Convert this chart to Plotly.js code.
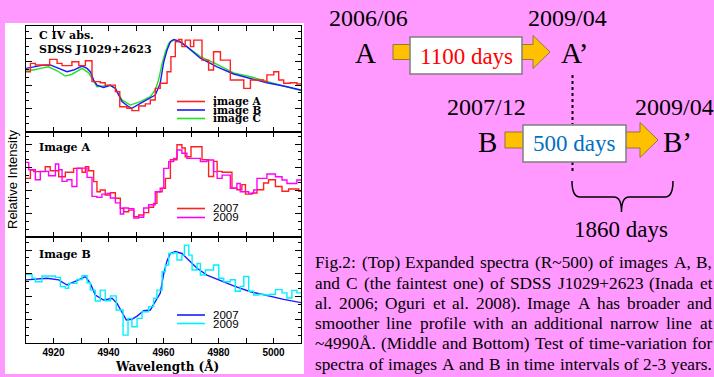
<!DOCTYPE html>
<html>
<head>
<meta charset="utf-8">
<script src="https://cdn.plot.ly/plotly-3.0.1.min.js"></script>
<style>html,body{margin:0;padding:0;background:#ff99ff;}#chart{width:714px;height:377px;}</style>
</head>
<body>
<div id="chart"></div>
<script>
// ---------- data (wavelength in Å, relative intensity in arbitrary units) ----------
// Top panel: C IV abs., images A (red), B (blue), C (green)
var topA_wl = [4910.0,4911.6,4913.4,4918.6,4921.3,4923.1,4926.7,4929.2,4931.6,4934.0,4937.0,4938.8,4942.5,4944.1,4946.7,4948.5,4951.0,4953.4,4955.2,4957.0,4958.8,4961.3,4962.7,4964.3,4965.5,4966.7,4967.9,4969.8,4971.0,4974.0,4976.4,4978.2,4980.7,4984.3,4989.2,4991.6,4996.4,4997.6,5000.1,5001.9,5003.7,5006.1,5008.5];
var topA_val = [2.58,2.94,2.87,3.11,2.94,2.84,3.01,2.84,3.05,2.15,2.10,2.00,1.72,1.07,1.00,0.90,1.10,1.19,1.36,1.86,2.08,2.58,3.23,3.87,3.97,3.66,3.94,3.66,3.94,3.08,2.65,3.44,3.08,2.22,1.86,2.22,2.15,2.44,2.58,2.22,2.08,2.10,2.05];
var topB_wl = [4910.0,4912.8,4915.8,4918.8,4921.9,4924.9,4927.3,4930.4,4932.2,4933.4,4934.6,4935.8,4938.2,4940.7,4942.5,4943.7,4944.9,4947.3,4948.5,4951.6,4955.2,4957.0,4957.8,4958.8,4960.1,4961.3,4962.5,4963.7,4965.5,4968.5,4973.4,4979.5,4985.5,4991.6,4997.6,5003.7,5010.0];
var topB_val = [2.72,2.79,2.85,2.87,2.72,2.58,2.65,2.82,2.72,2.58,2.22,2.00,1.90,1.99,1.86,1.57,1.29,1.07,1.00,1.21,1.43,1.57,1.79,2.08,3.01,3.51,3.87,3.97,3.91,3.66,3.16,2.79,2.48,2.29,2.10,1.96,1.79];
var topC_wl = [4910.0,4912.8,4915.2,4918.2,4921.3,4924.3,4926.7,4930.4,4932.8,4934.6,4935.8,4938.2,4940.7,4942.5,4944.9,4947.9,4951.6,4955.2,4957.0,4958.2,4959.5,4960.7,4961.9,4963.1,4964.3,4966.1,4968.5,4973.4,4979.5,4985.5,4991.6,4997.6,5003.7,5010.0];
var topC_val = [2.65,2.65,2.72,2.79,2.62,2.39,2.47,2.72,2.53,2.15,1.93,1.96,2.00,1.86,1.36,1.14,1.29,1.50,1.79,2.22,2.94,3.44,3.80,3.91,3.94,3.87,3.66,3.23,2.89,2.53,2.36,2.15,1.96,1.76];
// Middle panel: Image A, 2007 (red) and 2009 (magenta)
var midA07_wl = [4910.0,4911.6,4912.8,4917.0,4918.8,4921.9,4924.3,4927.3,4930.4,4931.6,4932.8,4934.6,4935.8,4937.0,4938.8,4940.7,4942.5,4944.3,4945.5,4947.3,4949.2,4951.0,4952.8,4954.6,4956.4,4957.6,4959.5,4960.7,4962.5,4964.9,4966.7,4967.9,4970.0,4974.0,4976.4,4978.2,4979.5,4981.3,4984.9,4986.7,4988.5,4989.8,4992.2,4994.0,4996.4,4998.2,5000.7,5003.1,5005.5,5009.2];
var midA07_val = [2.53,2.89,2.82,3.03,2.86,2.60,2.79,2.96,2.79,3.03,2.86,2.39,1.95,2.03,1.81,1.91,1.67,1.24,1.09,1.16,0.88,0.95,1.05,1.28,1.45,1.95,2.10,2.53,3.33,3.98,3.84,3.46,3.89,3.33,2.61,3.26,2.83,2.79,2.11,2.04,2.26,1.85,1.90,2.04,2.33,2.47,2.18,1.97,2.07,1.97];
var midA09_wl = [4910.0,4911.0,4913.4,4915.2,4918.2,4920.7,4921.9,4923.1,4924.9,4926.7,4928.5,4932.2,4934.0,4935.8,4937.6,4939.5,4940.7,4942.5,4944.3,4945.5,4947.3,4949.2,4951.0,4952.8,4954.6,4957.0,4958.8,4960.1,4961.9,4963.7,4964.9,4966.7,4968.5,4973.4,4975.8,4978.2,4979.5,4981.3,4984.3,4986.7,4987.9,4991.0,4992.8,4994.0,4997.6,5000.7,5003.1,5004.9,5008.5];
var midA09_val = [3.22,2.90,2.47,2.83,2.64,3.15,2.90,2.40,2.47,2.18,2.97,2.57,1.75,1.71,1.85,1.88,1.68,1.47,0.99,1.25,1.22,0.82,0.85,1.25,1.39,1.95,2.10,2.96,3.25,3.39,3.75,3.61,3.39,3.25,3.32,2.82,2.53,2.67,2.10,2.31,1.95,1.88,2.03,2.53,2.72,2.60,2.46,2.31,2.46];
// Bottom panel: Image B, 2007 (blue) and 2009 (cyan)
var botB07_wl = [4910.0,4917.6,4921.9,4924.9,4928.5,4931.6,4933.4,4935.2,4938.2,4941.3,4943.1,4944.9,4946.5,4948.5,4950.4,4952.8,4955.2,4957.0,4958.8,4960.1,4961.3,4962.5,4964.3,4966.7,4969.2,4972.2,4975.8,4979.5,4985.5,4991.6,4997.6,5003.7,5010.0];
var botB07_val = [2.72,2.79,2.72,2.50,2.69,2.86,2.57,2.07,1.85,1.93,1.71,1.35,0.99,1.02,1.16,1.39,1.42,1.78,2.14,3.00,3.55,3.86,3.94,3.86,3.58,3.22,2.93,2.74,2.46,2.21,2.04,1.88,1.74];
var botB09_wl = [4910.0,4912.2,4913.4,4915.8,4920.7,4922.5,4924.3,4925.5,4928.5,4930.4,4932.2,4933.4,4935.2,4937.0,4938.8,4940.7,4942.8,4945.3,4947.1,4948.5,4950.4,4952.2,4954.6,4956.4,4957.6,4959.5,4960.7,4961.9,4963.7,4964.9,4966.7,4967.6,4969.2,4970.4,4972.2,4973.4,4975.2,4978.2,4980.1,4981.9,4984.3,4986.1,4987.9,4989.2,4991.0,4992.8,4994.6,4996.4,4998.8,5000.7,5003.1,5004.9,5006.7,5008.5];
var botB09_val = [2.96,2.79,2.64,2.89,2.83,2.43,2.36,2.57,2.74,2.90,2.60,2.28,1.81,2.28,1.82,2.03,1.42,0.34,1.06,0.70,1.06,1.35,1.57,1.93,2.28,3.07,3.36,3.86,3.89,3.58,3.79,4.22,3.79,3.15,3.43,2.93,3.15,3.36,2.79,2.64,2.73,2.23,2.44,2.87,2.23,2.07,2.10,2.07,2.10,2.30,2.16,1.94,2.27,2.16];

var xRange = [4910, 5010];
var xTickStart = 4920, xLabelStep = 20, xMinorStep = 10;

var topLegend = ['image A','image B','image C'];
var midLegend = ['2007','2009'];
var botLegend = ['2007','2009'];
var panelLabels = ['C IV abs.<br>SDSS J1029+2623','Image A','Image B'];
var xTitle = 'Wavelength (Å)';
var yTitle = 'Relative Intensity';

var captionLines = [
 'Fig.2: (Top) Expanded spectra (R~500) of images A, B,',
 'and C (the faintest one) of SDSS J1029+2623 (Inada et',
 'al. 2006; Oguri et al. 2008). Image A has broader and',
 'smoother line profile with an additional narrow line at',
 '~4990Å. (Middle and Bottom) Test of time-variation for',
 'spectra of images A and B in time intervals of 2-3 years.'
];
var dates = {a0:'2006/06', a1:'2009/04', b0:'2007/12', b1:'2009/04'};
var intervals = {a:'1100 days', b:'500 days', total:'1860 days'};

// ---------- helpers ----------
var W = 714, H = 377;
function px(x){ return x / W; }
function py(y){ return 1 - y / H; }
function P(x, y){ return px(x).toFixed(5) + ',' + py(y).toFixed(5); }

function stepTrace(wl, val, color, xa, ya){
  return {x: wl.concat([xRange[1]]), y: val.concat([val[val.length-1]]),
    type:'scatter', mode:'lines', line:{shape:'hv', color:color, width:1.4},
    xaxis:xa, yaxis:ya, hoverinfo:'skip', showlegend:false};
}
function smoothTrace(wl, val, color, xa, ya){
  return {x: wl, y: val, type:'scatter', mode:'lines', line:{color:color, width:1.4},
    xaxis:xa, yaxis:ya, hoverinfo:'skip', showlegend:false};
}

var RED = '#ff2020', BLUE = '#1a1aff', GREEN = '#22e022', MAG = '#ff00ff', CYAN = '#00f0ff';

var traces = [
  smoothTrace(topC_wl, topC_val, GREEN, 'x', 'y'),
  smoothTrace(topB_wl, topB_val, BLUE, 'x', 'y'),
  stepTrace(topA_wl, topA_val, RED, 'x', 'y'),
  stepTrace(midA07_wl, midA07_val, RED, 'x2', 'y2'),
  stepTrace(midA09_wl, midA09_val, MAG, 'x2', 'y2'),
  smoothTrace(botB07_wl, botB07_val, BLUE, 'x3', 'y3'),
  stepTrace(botB09_wl, botB09_val, CYAN, 'x3', 'y3')
];

var xDom = [px(26), px(301)];
function xAxis(anchor, labels){
  return {domain:xDom, range:xRange, anchor:anchor, showline:true, linecolor:'#000', linewidth:1,
    mirror:'allticks', ticks:'inside', ticklen:5, tickcolor:'#000', tickwidth:1,
    tick0:xTickStart, dtick:xLabelStep, showgrid:false, zeroline:false,
    minor:{dtick:xMinorStep, tick0:xTickStart, ticks:'inside', ticklen:5, tickcolor:'#000', showgrid:false},
    showticklabels:labels, tickfont:{family:'Liberation Sans, Arial, sans-serif', size:10, color:'#000', weight:'bold'},
    fixedrange:true};
}
function yAxis(anchor, dom, top){
  return {domain:dom, range:[0, top], anchor:anchor, showline:true, linecolor:'#000', linewidth:1,
    mirror:'allticks', ticks:'inside', ticklen:6, tickcolor:'#000', tick0:0, dtick:1,
    minor:{dtick:1/3, tick0:0, ticks:'inside', ticklen:3, tickcolor:'#000', showgrid:false},
    showgrid:false, zeroline:false, showticklabels:false, fixedrange:true};
}

var serif = 'DejaVu Serif, serif';
var times = '"Liberation Serif", "Times New Roman", serif';
var sans = 'Liberation Sans, Arial, sans-serif';

var annotations = [];
function ann(text, x, y, opts){
  var a = {text:text, x:px(x), y:py(y), xref:'paper', yref:'paper', showarrow:false,
    xanchor:'left', yanchor:'middle', borderpad:0, borderwidth:0,
    font:{family:serif, size:11, color:'#000'}};
  for (var k in opts) a[k] = opts[k];
  annotations.push(a);
}
// panel labels
ann(panelLabels[0], 39, 42, {font:{family:serif, size:11, color:'#000', weight:'bold'}, align:'left'});
ann(panelLabels[1], 39, 147, {font:{family:serif, size:11, color:'#000', weight:'bold'}});
ann(panelLabels[2], 39, 254, {font:{family:serif, size:11, color:'#000', weight:'bold'}});
// legends
var shapes = [];
shapes.push({type:'rect', xref:'paper', yref:'paper', x0:px(5), x1:px(304), y0:py(374), y1:py(23),
  fillcolor:'#ffffff', line:{width:0}, layer:'below'});
function legLine(y, color){
  shapes.push({type:'line', xref:'paper', yref:'paper', x0:px(177), x1:px(205), y0:py(y), y1:py(y),
    line:{color:color, width:1.6}});
}
var topLegY = [101.5, 110, 118.5], topLegC = [RED, BLUE, GREEN];
for (var i=0;i<3;i++){ legLine(topLegY[i], topLegC[i]); ann(topLegend[i], 213, topLegY[i], {font:{family:serif, size:10.5, color:'#000', weight:'bold'}}); }
var midLegY = [208.5, 217.5], midLegC = [RED, MAG];
for (var i=0;i<2;i++){ legLine(midLegY[i], midLegC[i]); ann(midLegend[i], 213, midLegY[i], {font:{family:sans, size:11.5, color:'#000'}}); }
var botLegY = [315, 323.5], botLegC = [BLUE, CYAN];
for (var i=0;i<2;i++){ legLine(botLegY[i], botLegC[i]); ann(botLegend[i], 213, botLegY[i], {font:{family:sans, size:11.5, color:'#000'}}); }
// axis titles
ann(xTitle, 167, 366, {xanchor:'center', font:{family:serif, size:12, color:'#000', weight:'bold'}});
ann(yTitle, 12, 180, {xanchor:'center', textangle:-90, font:{family:sans, size:13, color:'#000'}});

// ---------- right-hand diagram ----------
var ORANGE = '#ffc000', EDGE = '#8a7a40';
function arrowPath(x0, xh, xt, yc, bh, hh){
  return 'M' + P(x0, yc-bh) + ' L' + P(xh, yc-bh) + ' L' + P(xh, yc-hh) + ' L' + P(xt, yc) +
         ' L' + P(xh, yc+hh) + ' L' + P(xh, yc+bh) + ' L' + P(x0, yc+bh) + ' Z';
}
shapes.push({type:'path', xref:'paper', yref:'paper', path:arrowPath(393, 533, 550, 52, 7.5, 16.5),
  fillcolor:ORANGE, line:{color:EDGE, width:1}});
shapes.push({type:'rect', xref:'paper', yref:'paper', x0:px(410), x1:px(522), y0:py(74), y1:py(37),
  fillcolor:'#ffffff', line:{color:'#7f7f7f', width:1.5}});
shapes.push({type:'path', xref:'paper', yref:'paper', path:arrowPath(505, 640, 658, 140, 8, 17.5),
  fillcolor:ORANGE, line:{color:EDGE, width:1}});
shapes.push({type:'line', xref:'paper', yref:'paper', x0:px(572.5), x1:px(572.5), y0:py(75), y1:py(124),
  line:{color:'#000', width:2, dash:'dot'}});
shapes.push({type:'line', xref:'paper', yref:'paper', x0:px(572.5), x1:px(572.5), y0:py(162), y1:py(174),
  line:{color:'#000', width:2, dash:'dot'}});
shapes.push({type:'rect', xref:'paper', yref:'paper', x0:px(523), x1:px(626), y0:py(162), y1:py(125),
  fillcolor:'#ffffff', line:{color:'#7f7f7f', width:1.5}});
// curly brace
shapes.push({type:'path', xref:'paper', yref:'paper',
  path:'M' + P(572,181) + ' Q' + P(572,197) + ' ' + P(580,197) + ' L' + P(614,197) +
       ' Q' + P(621.5,197) + ' ' + P(621.5,212) + ' Q' + P(621.5,197) + ' ' + P(629,197) +
       ' L' + P(665,197) + ' Q' + P(673,197) + ' ' + P(673,181),
  line:{color:'#000', width:1.5}});

function tann(text, x, y, size, color){
  ann(text, x, y, {xanchor:'center', font:{family:times, size:size, color:color||'#000'}});
}
tann(dates.a0, 368.5, 18, 24);
tann(dates.a1, 567.5, 18, 24);
tann('A', 366, 53, 29);
tann('A’', 574, 53, 29);
tann(intervals.a, 466, 56, 23, '#ff0000');
tann(dates.b0, 486, 107, 24);
tann(dates.b1, 674, 107, 24);
tann('B', 487, 142, 29);
tann('B’', 677, 142, 29);
tann(intervals.b, 574, 143, 23, '#0070c0');
tann(intervals.total, 621, 229, 23);

// caption: justified lines, word by word
var capY = [262.7, 283.3, 303.8, 323.5, 343.5, 364];
var capSize = 17.3, capLeft = 315, capRight = 712;
var ctx = document.createElement('canvas').getContext('2d');
ctx.font = capSize + 'px "Liberation Serif"';
for (var i=0;i<captionLines.length;i++){
  var words = captionLines[i].split(' ');
  var widths = words.map(function(w){ return ctx.measureText(w).width; });
  var total = widths.reduce(function(a,b){ return a+b; }, 0);
  var gap = (capRight - capLeft - total) / (words.length - 1);
  var xw = capLeft;
  for (var j=0;j<words.length;j++){
    ann(words[j], xw, capY[i], {font:{family:times, size:capSize, color:'#000'}});
    xw += widths[j] + gap;
  }
}

var layout = {
  width:W, height:H, margin:{l:0, r:0, t:0, b:0},
  paper_bgcolor:'#ff99ff', plot_bgcolor:'#ffffff', showlegend:false,
  xaxis: xAxis('y', false),
  xaxis2: xAxis('y2', false),
  xaxis3: xAxis('y3', true),
  yaxis: yAxis('x', [py(131.5), py(26)], 4.55),
  yaxis2: yAxis('x2', [py(237), py(131.5)], 4.55),
  yaxis3: yAxis('x3', [py(343), py(237)], 4.57),
  shapes: shapes, annotations: annotations
};
Plotly.newPlot('chart', traces, layout, {staticPlot:true, displayModeBar:false});
</script>
</body>
</html>
